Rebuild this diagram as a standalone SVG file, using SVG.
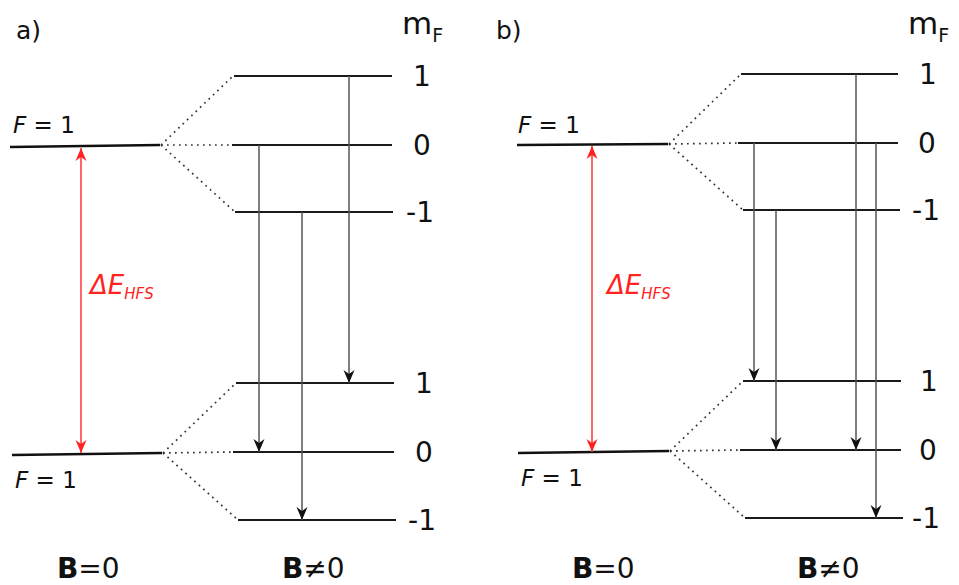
<svg xmlns="http://www.w3.org/2000/svg" width="959" height="585" viewBox="0 0 959 585">
<defs>
<style>
text{font-family:"DejaVu Sans","Verdana",sans-serif;fill:#111}
.lvl{stroke:#1a1a1a;stroke-width:1.8;fill:none}
.flv{stroke:#111;stroke-width:2.4;fill:none}
.dot{stroke:#333;stroke-width:1.7;stroke-dasharray:1.7 4.3;fill:none}
.tr{stroke:#555;stroke-width:1.5;fill:none;marker-end:url(#ah)}
.red{stroke:#f33;stroke-width:1.5;fill:none;marker-start:url(#rs);marker-end:url(#re)}
.lab{font-size:28px;text-anchor:middle}
.fl{font-size:23px}
.pl{font-size:25px}
.big{font-size:28px}
.de{font-size:26px;font-style:italic;fill:#f22}
.sub{font-size:15px;font-style:italic;fill:#f22}
.mf{font-size:31px}
.mfs{font-size:19px}
</style>
<marker id="ah" viewBox="-14 -6 15 12" refX="0" refY="0" markerWidth="15" markerHeight="12" markerUnits="userSpaceOnUse" orient="auto">
<path d="M0,0 L-13,-5.5 L-9,0 L-13,5.5 Z" fill="#111"/>
</marker>
<marker id="re" viewBox="-14 -6 15 12" refX="0" refY="0" markerWidth="15" markerHeight="12" markerUnits="userSpaceOnUse" orient="auto">
<path d="M0,0 L-13,-5.5 L-9,0 L-13,5.5 Z" fill="#f22"/>
</marker>
<marker id="rs" viewBox="-14 -6 15 12" refX="0" refY="0" markerWidth="15" markerHeight="12" markerUnits="userSpaceOnUse" orient="auto-start-reverse">
<path d="M0,0 L-13,-5.5 L-9,0 L-13,5.5 Z" fill="#f22"/>
</marker>
</defs>
<rect width="959" height="585" fill="#fff"/>

<!-- Panel a -->
<text x="16" y="39" class="pl">a)</text>
<text x="402" y="34" class="mf">m<tspan dy="8" class="mfs">F</tspan></text>

<g id="a-upper-F">
<line x1="10" y1="147" x2="160" y2="145" class="flv"/>
<text x="13" y="133" class="fl"><tspan font-style="italic">F</tspan> = 1</text>
</g>
<g id="a-lower-F">
<line x1="12" y1="455" x2="162" y2="453" class="flv"/>
<text x="15" y="488" class="fl"><tspan font-style="italic">F</tspan> = 1</text>
</g>
<g id="a-u1"><line x1="234" y1="76" x2="392" y2="76" class="lvl"/><text x="422" y="86" class="lab">1</text></g>
<g id="a-u0"><line x1="232" y1="145" x2="392" y2="145" class="lvl"/><text x="422" y="155" class="lab">0</text></g>
<g id="a-um1"><line x1="235" y1="212" x2="393" y2="212" class="lvl"/><text x="420" y="222" class="lab">-1</text></g>
<g id="a-l1"><line x1="236" y1="383" x2="394" y2="383" class="lvl"/><text x="424" y="393" class="lab">1</text></g>
<g id="a-l0"><line x1="233" y1="452" x2="394" y2="452" class="lvl"/><text x="424" y="462" class="lab">0</text></g>
<g id="a-lm1"><line x1="238" y1="520" x2="396" y2="520" class="lvl"/><text x="422" y="530" class="lab">-1</text></g>
<text x="57" y="578" class="big"><tspan font-weight="bold">B</tspan>=0</text>
<text x="282" y="578" class="big"><tspan font-weight="bold">B</tspan>≠0</text>
<text x="90" y="294" class="de">ΔE<tspan class="sub" dy="5">HFS</tspan></text>

<!-- Panel b -->
<text x="496" y="39" class="pl">b)</text>
<text x="908" y="34" class="mf">m<tspan dy="8" class="mfs">F</tspan></text>

<g id="b-upper-F">
<line x1="517" y1="145" x2="668" y2="144" class="flv"/>
<text x="518" y="133" class="fl"><tspan font-style="italic">F</tspan> = 1</text>
</g>
<g id="b-lower-F">
<line x1="518" y1="453" x2="669" y2="451" class="flv"/>
<text x="521" y="486" class="fl"><tspan font-style="italic">F</tspan> = 1</text>
</g>
<g id="b-u1"><line x1="741" y1="74" x2="898" y2="74" class="lvl"/><text x="928" y="84" class="lab">1</text></g>
<g id="b-u0"><line x1="738" y1="143" x2="898" y2="143" class="lvl"/><text x="927" y="153" class="lab">0</text></g>
<g id="b-um1"><line x1="743" y1="210" x2="900" y2="210" class="lvl"/><text x="926" y="220" class="lab">-1</text></g>
<g id="b-l1"><line x1="743" y1="381" x2="901" y2="381" class="lvl"/><text x="929" y="391" class="lab">1</text></g>
<g id="b-l0"><line x1="740" y1="450" x2="901" y2="450" class="lvl"/><text x="928" y="460" class="lab">0</text></g>
<g id="b-lm1"><line x1="745" y1="518" x2="903" y2="518" class="lvl"/><text x="926" y="528" class="lab">-1</text></g>
<text x="572" y="578" class="big"><tspan font-weight="bold">B</tspan>=0</text>
<text x="797" y="578" class="big"><tspan font-weight="bold">B</tspan>≠0</text>
<text x="607" y="294" class="de">ΔE<tspan class="sub" dy="5">HFS</tspan></text>

<g id="connectors">
<line x1="161" y1="145" x2="233" y2="76" class="dot"/>
<line x1="161" y1="145" x2="232" y2="145" class="dot"/>
<line x1="161" y1="145" x2="235" y2="212" class="dot"/>
<line x1="163" y1="453" x2="236" y2="383" class="dot"/>
<line x1="163" y1="453" x2="233" y2="452" class="dot"/>
<line x1="163" y1="453" x2="238" y2="520" class="dot"/>
<line x1="81" y1="148" x2="81" y2="453" class="red"/>
<line x1="259" y1="145" x2="259" y2="452" class="tr"/>
<line x1="302" y1="212" x2="302" y2="520" class="tr"/>
<line x1="349" y1="76" x2="349" y2="383" class="tr"/>
<line x1="669" y1="144" x2="741" y2="74" class="dot"/>
<line x1="669" y1="144" x2="738" y2="143" class="dot"/>
<line x1="669" y1="144" x2="743" y2="210" class="dot"/>
<line x1="670" y1="451" x2="743" y2="381" class="dot"/>
<line x1="670" y1="451" x2="740" y2="450" class="dot"/>
<line x1="670" y1="451" x2="745" y2="518" class="dot"/>
<line x1="592" y1="146" x2="592" y2="452" class="red"/>
<line x1="754" y1="143" x2="754" y2="381" class="tr"/>
<line x1="776" y1="210" x2="776" y2="450" class="tr"/>
<line x1="856" y1="74" x2="856" y2="450" class="tr"/>
<line x1="876" y1="143" x2="876" y2="518" class="tr"/>
</g>
</svg>
